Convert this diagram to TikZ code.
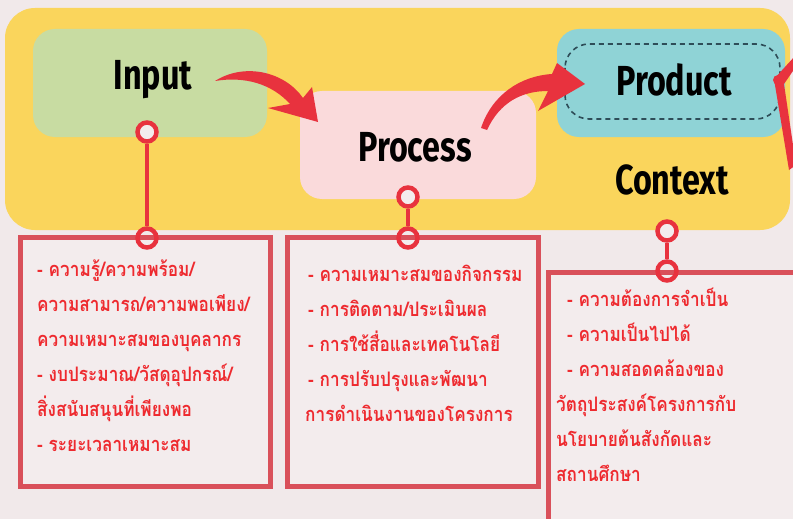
\documentclass[tikz,border=0pt]{standalone}
\usepackage{fontspec}
\setmainfont{Fira Sans}
\newfontfamily\thaifont[Script=Thai, FakeStretch=0.86]{Loma}
\definecolor{bgc}{HTML}{F1E9EA}
\definecolor{panelY}{HTML}{FAD55C}
\definecolor{inG}{HTML}{C8DCA2}
\definecolor{prP}{HTML}{FADADB}
\definecolor{prC}{HTML}{8FD3D6}
\definecolor{accR}{HTML}{E8323E}
\definecolor{boxR}{HTML}{D9505A}
\definecolor{boxF}{HTML}{F3ECED}
\definecolor{dashC}{HTML}{2E4D58}
\definecolor{txtR}{HTML}{EE2A2F}
\tikzset{
  stage/.style={rounded corners=22pt, inner sep=0pt},
  heading/.style={font=\bfseries\fontsize{42}{42}\selectfont, text=black, inner sep=0pt},
  infobox/.style={draw=boxR, line width=5pt, fill=boxF, inner sep=0pt},
  ringtop/.style={circle, draw=accR, line width=4.5pt, fill=boxF, minimum size=19pt, inner sep=0pt},
  ringbot/.style={circle, draw=accR, line width=4.5pt, minimum size=19pt, inner sep=0pt},
  conn/.style={draw=accR, line width=4pt},
  thaitext/.style={font=\thaifont\bfseries\fontsize{20}{35}\selectfont, text=txtR, align=left, anchor=north west, inner sep=0pt},
  brush/.style={fill=accR}
}
\newcommand{\hd}[1]{\scalebox{0.77}[1]{#1}}
\begin{document}
\begin{tikzpicture}[x=1pt,y=-1pt]
\useasboundingbox (0,0) rectangle (793,519);
\fill[bgc] (0,0) rectangle (793,519);
% yellow panel
\fill[panelY, rounded corners=30pt] (5,8) rectangle (790,230);
% stage boxes
\node[stage, fill=inG, minimum width=234pt, minimum height=108pt] (input) at (150,83) {};
\node[stage, fill=prP, minimum width=236pt, minimum height=108pt] (process) at (418,145) {};
\node[stage, fill=prC, minimum width=228pt, minimum height=108pt] (product) at (671,83) {};
\draw[dashC, line width=1.6pt, dash pattern=on 5pt off 4pt, rounded corners=24pt] (565,44) rectangle (780,119);
\node[heading] (inputT) at (153,80) {\hd{Input}};
\node[heading] (processT) at (415,147) {\hd{Process}};
\node[heading] (productT) at (674,80) {\hd{Product}};
\node[heading] (contextT) at (672,180) {\hd{Context}};
% brush arrows
\fill[brush] (215,81) .. controls (245,62) and (285,72) .. (303,98) -- (312,87) -- (318,122) -- (268,108) -- (290,104) .. controls (272,84) and (245,76) .. (215,81) -- cycle;
\fill[brush] (481,128) .. controls (492,95) and (520,76) .. (552,74) -- (557,63) -- (585,84) -- (538,111) -- (548,91) .. controls (522,91) and (500,102) .. (487,130) -- cycle;
\fill[brush] (774,79) -- (795,56) -- (795,68) -- (784,84) -- (796,165) -- (789,170) -- cycle;
\fill[accR] (778,80) circle (5pt);
% info boxes
\node[infobox, minimum width=250pt, minimum height=249pt] (box1) at (145,362) {};
\node[infobox, minimum width=251pt, minimum height=249pt] (box2) at (413,362) {};
\node[infobox, minimum width=280pt, minimum height=280pt] (box3) at (688,412) {};
% connectors
\node[ringtop] (r1a) at (147,132) {};
\node[ringbot] (r1b) at (147,238) {};
\draw[conn] (r1a) -- (r1b);
\node[ringtop] (r2a) at (408,197) {};
\node[ringbot] (r2b) at (408,238) {};
\draw[conn] (r2a) -- (r2b);
\node[ringtop] (r3a) at (667,231) {};
\node[ringbot] (r3b) at (667,271) {};
\draw[conn] (r3a) -- (r3b);
% texts
\node[thaitext] (t1) at (37,260) {- ความรู้/ความพร้อม/\\ความสามารถ/ความพอเพียง/\\ความเหมาะสมของบุคลากร\\- งบประมาณ/วัสดุอุปกรณ์/\\สิ่งสนับสนุนที่เพียงพอ\\- ระยะเวลาเหมาะสม};
\node[thaitext] (t2) at (305,265) {\hspace*{3pt}- ความเหมาะสมของกิจกรรม\\\hspace*{3pt}- การติดตาม/ประเมินผล\\\hspace*{3pt}- การใช้สื่อและเทคโนโลยี\\\hspace*{3pt}- การปรับปรุงและพัฒนา\\การดำเนินงานของโครงการ};
\node[thaitext] (t3) at (556,288) {\hspace*{11pt}- ความต้องการจำเป็น\\\hspace*{11pt}- ความเป็นไปได้\\\hspace*{11pt}- ความสอดคล้องของ\\วัตถุประสงค์โครงการกับ\\นโยบายต้นสังกัดและ\\สถานศึกษา};
\end{tikzpicture}
\end{document}
